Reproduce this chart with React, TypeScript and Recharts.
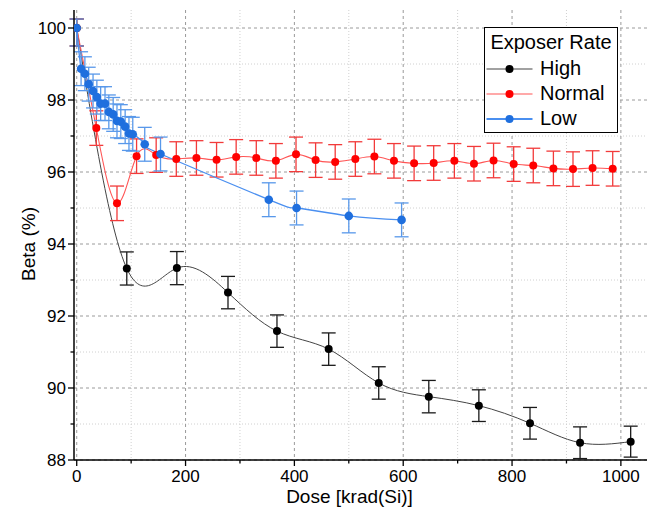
import React from "react";
import { LineChart, Line, XAxis, YAxis, CartesianGrid, ErrorBar, Legend, Label } from "recharts";

const FONT = '"Liberation Sans", Arial, sans-serif';

// High exposure rate
const highDose = [0, 92, 184, 278, 368, 463, 555, 647, 739, 833, 925, 1018];
const highBeta = [100, 93.32, 93.33, 92.65, 91.58, 91.08, 90.14, 89.76, 89.51, 89.02, 88.48, 88.51];
const highErr = [[0.5, 0.25], 0.46, 0.46, 0.45, 0.45, 0.45, 0.45, 0.45, 0.44, 0.44, 0.44, 0.43];

// Normal exposure rate
const normalDose = [0, 36, 74, 110, 146, 183, 220, 257, 293, 330, 366, 403, 439, 475, 512, 547, 583, 620, 656, 694, 730, 766, 803, 839, 876, 912, 948, 985];
const normalBeta = [100, 97.22, 95.13, 96.44, 96.47, 96.36, 96.39, 96.34, 96.42, 96.39, 96.31, 96.49, 96.33, 96.28, 96.36, 96.43, 96.31, 96.24, 96.25, 96.31, 96.23, 96.32, 96.22, 96.18, 96.1, 96.08, 96.11, 96.09];
const normalErr = [[0.5, 0.25], 0.48, 0.48, 0.48, 0.48, 0.48, 0.48, 0.48, 0.48, 0.48, 0.48, 0.48, 0.48, 0.48, 0.48, 0.48, 0.48, 0.48, 0.48, 0.48, 0.48, 0.48, 0.48, 0.48, 0.48, 0.48, 0.48, 0.48];

// Low exposure rate
const lowDose = [0, 8, 15, 22, 30, 37, 44, 52, 59, 67, 74, 81, 89, 96, 103, 125, 154, 353, 404, 500, 597];
const lowBeta = [100, 98.87, 98.73, 98.44, 98.25, 98.08, 97.9, 97.9, 97.67, 97.6, 97.42, 97.4, 97.26, 97.07, 97.05, 96.77, 96.5, 95.23, 95.0, 94.78, 94.67];
const lowErr = [[0.5, 0.25], 0.47, 0.47, 0.47, 0.47, 0.47, 0.47, 0.47, 0.47, 0.47, 0.47, 0.47, 0.47, 0.47, 0.47, 0.47, 0.47, 0.47, 0.47, 0.47, 0.47];

const xMajor = [0, 200, 400, 600, 800, 1000];
const xMinor = [100, 300, 500, 700, 900];
const yMajor = [88, 90, 92, 94, 96, 98, 100];
const yMinor = [89, 91, 93, 95, 97, 99];

const xTicks = [...xMajor, ...xMinor].sort((a, b) => a - b);
const yTicks = [...yMajor, ...yMinor].sort((a, b) => a - b);

const build = (dose: number[], beta: number[], err: any[]) =>
  dose.map((x, i) => ({ x, y: beta[i], err: err[i] }));

const highData = build(highDose, highBeta, highErr);
const normalData = build(normalDose, normalBeta, normalErr);
const lowData = build(lowDose, lowBeta, lowErr);

const series = [
  { name: "High", line: "#444444", dot: "#000000" },
  { name: "Normal", line: "#ff5555", dot: "#ff0000" },
  { name: "Low", line: "#4a8ff0", dot: "#1f6fde" },
];

const makeTick = (side: "bottom" | "top" | "left" | "right", majors: number[]) => (props: any) => {
  const { x, y, payload } = props;
  const major = majors.includes(payload.value);
  const len = major ? 6 : 3.5;
  const common = { stroke: "#000", strokeWidth: 1.3 };
  if (side === "bottom") {
    return (
      <g>
        <line x1={x} x2={x} y1={y} y2={y + len} {...common} />
        {major && (
          <text x={x} y={y + 22} textAnchor="middle" fontSize={17} fontFamily={FONT} fill="#000">
            {payload.value}
          </text>
        )}
      </g>
    );
  }
  if (side === "top") {
    return <line x1={x} x2={x} y1={y} y2={y + len} {...common} />;
  }
  if (side === "left") {
    return (
      <g>
        <line x1={x} x2={x - len} y1={y} y2={y} {...common} />
        {major && (
          <text x={x - 8} y={y} dy="0.36em" textAnchor="end" fontSize={17} fontFamily={FONT} fill="#000">
            {payload.value}
          </text>
        )}
      </g>
    );
  }
  return <line x1={x} x2={x - len} y1={y} y2={y} {...common} />;
};

const renderLegend = () => (
  <div
    style={{
      boxSizing: "border-box",
      width: 134,
      height: 106,
      border: "1.5px solid #000",
      background: "#fff",
      fontFamily: FONT,
      fontSize: 20,
      color: "#000",
    }}
  >
    <div style={{ height: 28, lineHeight: "28px", textAlign: "center" }}>Exposer Rate</div>
    {series.map((s) => (
      <div key={s.name} style={{ display: "flex", alignItems: "center", height: 25 }}>
        <svg width={55} height={10} style={{ flex: "none" }}>
          <line x1={1.5} x2={47.5} y1={5} y2={5} stroke={s.line} strokeWidth={s.name === "Low" ? 2 : 1.2} />
          <circle cx={24.5} cy={5} r={4} fill={s.dot} />
        </svg>
        <span style={{ lineHeight: "25px" }}>{s.name}</span>
      </div>
    ))}
  </div>
);

export default function App() {
  return (
    <div style={{ position: "absolute", left: 0, top: 0 }}>
      <LineChart width={654} height={514} margin={{ top: 10, right: 7, bottom: 0, left: 0 }}>
        <CartesianGrid
          horizontalValues={yMinor}
          verticalValues={xMinor}
          stroke="#d0d0d0"
          strokeDasharray="1 2"
        />
        <CartesianGrid
          horizontalValues={yMajor}
          verticalValues={xMajor}
          stroke="#9a9a9a"
          strokeDasharray="3 3"
        />
        <XAxis
          type="number"
          dataKey="x"
          domain={[-5, 1048]}
          allowDataOverflow
          ticks={xTicks}
          interval={0}
          height={54}
          tickSize={0}
          tickMargin={0}
          tick={makeTick("bottom", xMajor)}
          tickLine={false}
          axisLine={{ stroke: "#000", strokeWidth: 1.5 }}
        >
          <Label
            content={({ viewBox }: any) => (
              <text
                x={viewBox.x + viewBox.width / 2 - 11}
                y={viewBox.y + 43}
                textAnchor="middle"
                fontSize={19}
                fontFamily={FONT}
                fill="#000"
              >
                Dose [krad(Si)]
              </text>
            )}
          />
        </XAxis>
        <XAxis
          xAxisId="top"
          orientation="top"
          type="number"
          dataKey="x"
          domain={[-5, 1048]}
          allowDataOverflow
          ticks={xTicks}
          interval={0}
          height={0}
          tickSize={0}
          tickMargin={0}
          tick={makeTick("top", xMajor)}
          tickLine={false}
          axisLine={{ stroke: "#000", strokeWidth: 1.5 }}
        />
        <YAxis
          type="number"
          domain={[88, 100.5]}
          allowDataOverflow
          ticks={yTicks}
          interval={0}
          width={74}
          tickSize={0}
          tickMargin={0}
          tick={makeTick("left", yMajor)}
          tickLine={false}
          axisLine={{ stroke: "#000", strokeWidth: 1.5 }}
        >
          <Label
            content={({ viewBox }: any) => {
              const cx = 28;
              const cy = viewBox.y + viewBox.height / 2 + 9;
              return (
                <text
                  x={cx}
                  y={cy}
                  transform={`rotate(-90, ${cx}, ${cy})`}
                  textAnchor="middle"
                  dominantBaseline="central"
                  fontSize={19}
                  fontFamily={FONT}
                  fill="#000"
                >
                  Beta (%)
                </text>
              );
            }}
          />
        </YAxis>
        <YAxis
          yAxisId="right"
          orientation="right"
          type="number"
          domain={[88, 100.5]}
          allowDataOverflow
          ticks={yTicks}
          interval={0}
          width={0}
          tickSize={0}
          tickMargin={0}
          tick={makeTick("right", yMajor)}
          tickLine={false}
          axisLine={{ stroke: "#000", strokeWidth: 1.5 }}
        />
        <Legend
          layout="horizontal"
          verticalAlign="middle"
          align="center"
          content={renderLegend}
          wrapperStyle={{ position: "absolute", left: 484, top: 27, width: 134, height: 106 }}
        />
        <Line
          name="High"
          data={highData}
          dataKey="y"
          type="natural"
          stroke={series[0].line}
          strokeWidth={1}
          dot={{ r: 4, fill: series[0].dot, stroke: series[0].dot, strokeWidth: 0 }}
          activeDot={false}
          isAnimationActive={false}
        >
          <ErrorBar dataKey="err" direction="y" width={7} stroke="#1a1a1a" strokeWidth={1.3} />
        </Line>
        <Line
          name="Normal"
          data={normalData}
          dataKey="y"
          type="natural"
          stroke={series[1].line}
          strokeWidth={1.1}
          dot={{ r: 4, fill: series[1].dot, stroke: series[1].dot, strokeWidth: 0 }}
          activeDot={false}
          isAnimationActive={false}
        >
          <ErrorBar dataKey="err" direction="y" width={7} stroke="#f23a3a" strokeWidth={1.3} />
        </Line>
        <Line
          name="Low"
          data={lowData}
          dataKey="y"
          type="natural"
          stroke={series[2].line}
          strokeWidth={1.3}
          dot={{ r: 4.3, fill: series[2].dot, stroke: series[2].dot, strokeWidth: 0 }}
          activeDot={false}
          isAnimationActive={false}
        >
          <ErrorBar dataKey="err" direction="y" width={7} stroke="#5898ea" strokeWidth={1.3} />
        </Line>
      </LineChart>
    </div>
  );
}
